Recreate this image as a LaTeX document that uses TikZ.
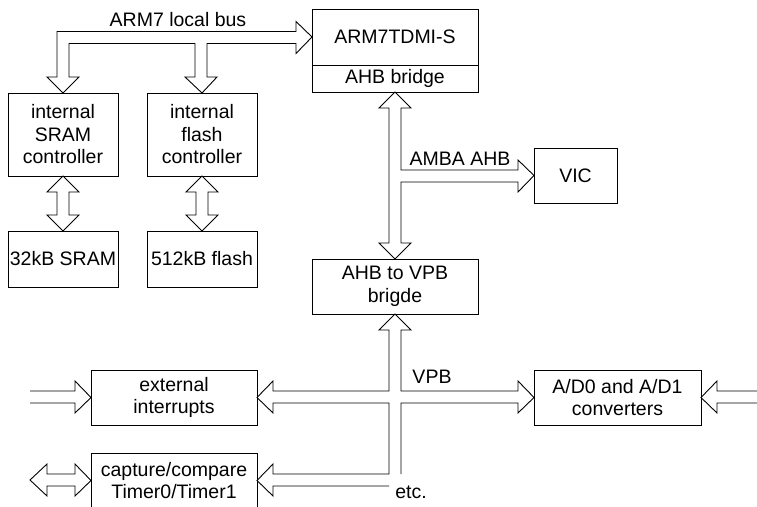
\documentclass[tikz,border=0pt]{standalone}
\usepackage{fontspec}
\setmainfont{Liberation Sans}
\begin{document}
\begin{tikzpicture}[x=1pt,y=-1pt,
  txt/.style={font=\fontsize{19.5}{22.5}\selectfont, inner sep=0pt, align=center},
  box/.style={txt, draw, line width=0.9pt, outer sep=0pt},
  bus/.style={draw, line width=0.9pt, fill=white, line join=miter}]
\clip (0,0) rectangle (757,506);
\fill[white] (0,0) rectangle (757,506);
% boxes
\node[box, minimum width=110, minimum height=83] (sramc) at (63,134.5) {internal\\SRAM\\controller};
\node[box, minimum width=110, minimum height=83] (flashc) at (202,134.5) {internal\\flash\\controller};
\node[box, minimum width=110, minimum height=56] (sram) at (63,259) {32kB SRAM};
\node[box, minimum width=110, minimum height=56] (flash) at (202,259) {512kB flash};
\node[box, minimum width=166, minimum height=56] (arm) at (395,37) {ARM7TDMI-S};
\node[box, minimum width=166, minimum height=27] (bridge) at (395,78.5) {AHB bridge};
\node[box, minimum width=83, minimum height=55] (vic) at (575.5,175.5) {VIC};
\node[box, minimum width=166, minimum height=55] (ahbvpb) at (395,286.5) {AHB to VPB\\brigde};
\node[box, minimum width=166, minimum height=55] (extint) at (174,397.5) {external\\interrupts};
\node[box, minimum width=166, minimum height=55] (cap) at (174,480.5) {capture/compare\\Timer0/Timer1};
\node[box, minimum width=167, minimum height=55] (ad) at (617.5,397.5) {A/D0 and A/D1\\converters};
% labels
\node[txt] (lbus) at (178,20) {ARM7 local bus};
\node[txt] (lahb) at (460,159) {AMBA AHB};
\node[txt] (lvpb) at (432,377) {VPB};
\node[txt] (letc) at (411,492) {etc.};
% ARM7 local bus
\draw[bus] (57,77) -- (47,77) -- (sramc.north) -- (79,77) -- (69,77) -- (69,43.5)
  -- (195,43.5) -- (195,77) -- (185,77) -- (flashc.north) -- (217,77) -- (207,77) -- (207,43.5)
  -- (296,43.5) -- (296,53.5) -- (arm.west) -- (296,21.5) -- (296,31.5) -- (57,31.5) -- cycle;
% controller <-> memory
\draw[bus] (sramc.south) -- (79,192) -- (69,192) -- (69,215) -- (79,215) -- (sram.north)
  -- (47,215) -- (57,215) -- (57,192) -- (47,192) -- cycle;
\draw[bus] (flashc.south) -- (218,192) -- (208,192) -- (208,215) -- (218,215) -- (flash.north)
  -- (186,215) -- (196,215) -- (196,192) -- (186,192) -- cycle;
% AMBA AHB
\draw[bus] (bridge.south) -- (411,108) -- (401,108) -- (401,170) -- (518,170) -- (518,160)
  -- (vic.west) -- (518,192) -- (518,182) -- (401,182) -- (401,243) -- (411,243)
  -- (ahbvpb.north) -- (379,243) -- (389,243) -- (389,108) -- (379,108) -- cycle;
% VPB
\coordinate (etcR) at (401,474);
\coordinate (etcL) at (389,486);
\draw[bus] (etcR) -- (401,403) -- (518,403) -- (518,413) -- (ad.west) -- (518,381) -- (518,391)
  -- (401,391) -- (401,330) -- (411,330) -- (ahbvpb.south) -- (379,330) -- (389,330)
  -- (389,391) -- (273,391) -- (273,381) -- (extint.east) -- (273,413) -- (273,403)
  -- (389,403) -- (389,474) -- (273,474) -- (273,464) -- (cap.east) -- (273,496)
  -- (273,486) -- (etcL);
% external inputs
\coordinate (e1a) at (30,391);
\coordinate (e1b) at (30,403);
\draw[bus] (e1a) -- (75,391) -- (75,381) -- (extint.west) -- (75,413) -- (75,403) -- (e1b);
\coordinate (c1) at (30,480);
\draw[bus] (c1) -- (47,464) -- (47,474) -- (75,474) -- (75,464) -- (cap.west) -- (75,496)
  -- (75,486) -- (47,486) -- (47,496) -- cycle;
\coordinate (a1a) at (760,391);
\coordinate (a1b) at (760,403);
\draw[bus] (a1a) -- (717,391) -- (717,381) -- (ad.east) -- (717,413) -- (717,403) -- (a1b);
\end{tikzpicture}
\end{document}
